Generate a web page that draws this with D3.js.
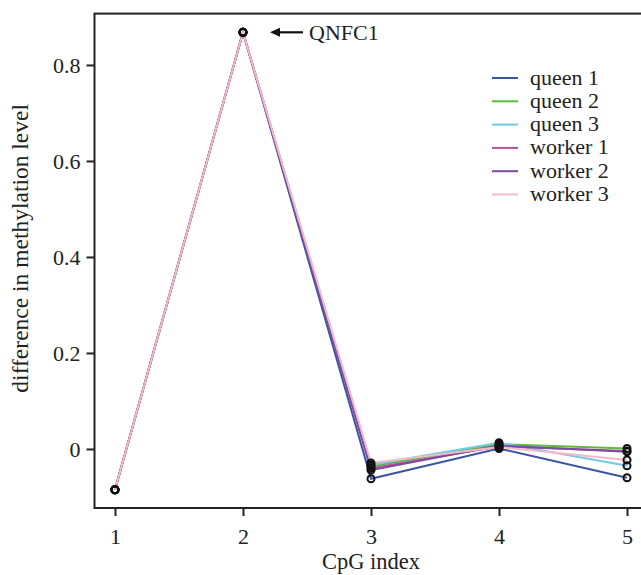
<!DOCTYPE html>
<html>
<head>
<meta charset="utf-8">
<script src="https://cdn.jsdelivr.net/npm/d3@7"></script>
<style>
  body { margin: 0; background: #fff; }
  svg { display: block; }
  text { font-family: "Liberation Serif", "DejaVu Serif", serif; fill: #222; }
</style>
</head>
<body>
<script>
const cpgIndex = [1, 2, 3, 4, 5];
const seriesNames = ["queen 1", "queen 2", "queen 3", "worker 1", "worker 2", "worker 3"];
const seriesColors = ["#3b55a5", "#5dba3b", "#6fcbe0", "#b8509f", "#7b4c9f", "#f5b9c9"];
const queen1 = [-0.085, 0.868, -0.062, 0.001, -0.060];
const queen2 = [-0.085, 0.868, -0.036, 0.010, 0.001];
const queen3 = [-0.085, 0.868, -0.033, 0.013, -0.035];
const worker1 = [-0.085, 0.868, -0.040, 0.005, -0.004];
const worker2 = [-0.085, 0.868, -0.044, 0.007, -0.006];
const worker3 = [-0.085, 0.868, -0.029, 0.004, -0.023];
const seriesValues = [queen1, queen2, queen3, worker1, worker2, worker3];
const yTicks = [0, 0.2, 0.4, 0.6, 0.8];
const yTickLabels = ["0", "0.2", "0.4", "0.6", "0.8"];
const xTickLabels = ["1", "2", "3", "4", "5"];
const annotationLabel = "QNFC1";

const W = 641, H = 575;
const FS = 22;
const FT = 22.5;
const svg = d3.select("body").append("svg").attr("width", W).attr("height", H);

const x = d3.scaleLinear().domain([0.84, 5.16]).range([94.5, 647.5]);
const y = d3.scaleLinear().domain([-0.123, 0.907]).range([508, 13.6]);

const ink = "#222";

// plot box
svg.append("rect")
  .attr("x", x(0.84)).attr("y", y(0.907))
  .attr("width", x(5.16) - x(0.84)).attr("height", y(-0.123) - y(0.907))
  .attr("fill", "none").attr("stroke", ink).attr("stroke-width", 2);

// y axis
const yAxis = d3.axisLeft(y).tickValues(yTicks).tickSize(8)
  .tickFormat((d, i) => yTickLabels[i]);
const gy = svg.append("g").attr("transform", `translate(${x(0.84)},0)`).call(yAxis);
gy.attr("font-size", null).attr("font-family", null);
gy.select(".domain").remove();
gy.selectAll("line").attr("stroke", ink).attr("stroke-width", 2);
gy.selectAll("text").attr("font-size", FS).attr("x", -14).attr("dy", "0.33em")
  .attr("font-family", "Liberation Serif, serif").attr("fill", ink);

// x axis
const xAxis = d3.axisBottom(x).tickValues(cpgIndex).tickSize(8)
  .tickFormat((d, i) => xTickLabels[i]);
const gx = svg.append("g").attr("transform", `translate(0,${y(-0.123)})`).call(xAxis);
gx.attr("font-size", null).attr("font-family", null);
gx.select(".domain").remove();
gx.selectAll("line").attr("stroke", ink).attr("stroke-width", 2);
gx.selectAll("text").attr("font-size", FS).attr("y", 20).attr("font-family", "Liberation Serif, serif").attr("fill", ink);

// axis titles
svg.append("text").attr("x", x(3)).attr("y", 569).attr("text-anchor", "middle")
  .attr("font-size", FT).text("CpG index");
svg.append("text").attr("transform", `translate(28,${y(0.418)}) rotate(-90)`)
  .attr("text-anchor", "middle").attr("font-size", 23.5).text("difference in methylation level");

// lines
const line = d3.line().x((d, i) => x(cpgIndex[i])).y(d => y(d));
seriesValues.forEach((vals, k) => {
  svg.append("path").datum(vals).attr("d", line)
    .attr("fill", "none").attr("stroke", seriesColors[k]).attr("stroke-width", 2);
});

// points
seriesValues.forEach((vals) => {
  svg.append("g").selectAll("circle").data(vals).join("circle")
    .attr("cx", (d, i) => x(cpgIndex[i])).attr("cy", d => y(d)).attr("r", 3.5)
    .attr("fill", "none").attr("stroke", "#111").attr("stroke-width", 2);
});

// annotation arrow
const ay = y(queen1[1]);
svg.append("line").attr("x1", 303).attr("y1", ay).attr("x2", 274).attr("y2", ay)
  .attr("stroke", "#111").attr("stroke-width", 2.2);
svg.append("path")
  .attr("d", `M270,${ay} L280,${ay - 4.5} L280,${ay + 4.5} Z`)
  .attr("fill", "#111");
svg.append("text").attr("x", 309).attr("y", ay + 7.5).attr("font-size", FS).text(annotationLabel);

// legend
const lg = svg.append("g");
seriesNames.forEach((name, k) => {
  const ly = 78 + k * 23.3;
  lg.append("line").attr("x1", 492).attr("x2", 518).attr("y1", ly).attr("y2", ly)
    .attr("stroke", seriesColors[k]).attr("stroke-width", 2);
  lg.append("text").attr("x", 530).attr("y", ly + 6.5).attr("font-size", FS).text(name);
});
</script>
</body>
</html>
